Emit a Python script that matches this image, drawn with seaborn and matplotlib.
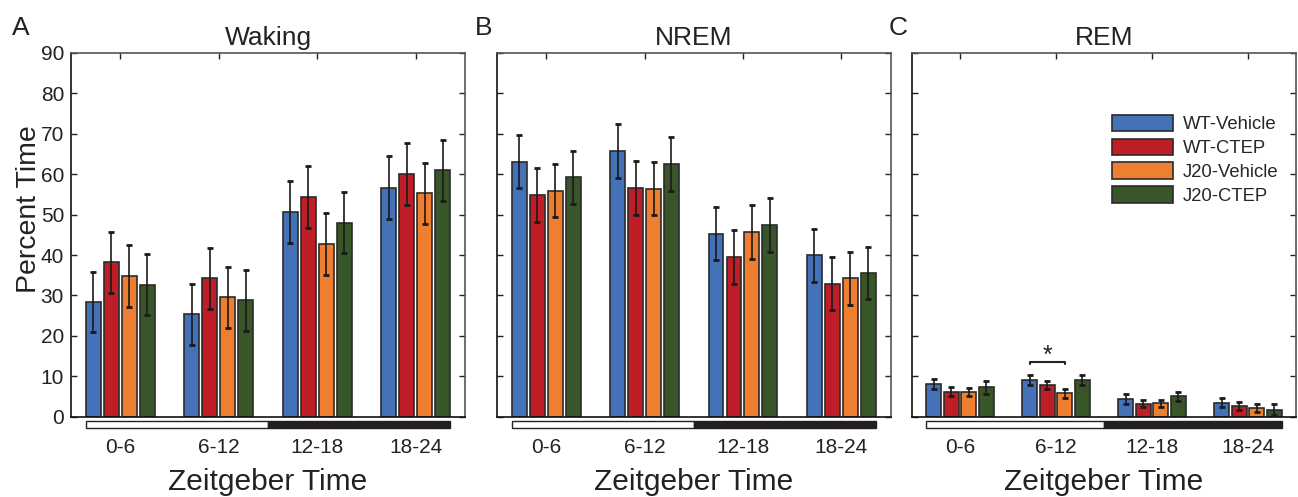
import numpy as np
import pandas as pd
import seaborn as sns
import matplotlib.pyplot as plt
from matplotlib.patches import Rectangle
import matplotlib.transforms as mtransforms

# data
times = ['0-6', '6-12', '12-18', '18-24']
groups = ['WT-Vehicle', 'WT-CTEP', 'J20-Vehicle', 'J20-CTEP']
colors = ['#4472B9', '#C01E26', '#EE7F30', '#385628']

waking_mean = [[28.4, 25.3, 50.7, 56.7],
               [38.2, 34.2, 54.3, 60.0],
               [34.8, 29.5, 42.8, 55.3],
               [32.7, 28.8, 48.0, 61.0]]
waking_sem = [[7.5, 7.6, 7.6, 7.7],
              [7.6, 7.6, 7.7, 7.7],
              [7.7, 7.6, 7.7, 7.6],
              [7.6, 7.5, 7.6, 7.5]]

nrem_mean = [[63.1, 65.8, 45.3, 39.9],
             [54.9, 56.6, 39.5, 32.9],
             [55.9, 56.4, 45.8, 34.2],
             [59.2, 62.5, 47.4, 35.6]]
nrem_sem = [[6.6, 6.7, 6.6, 6.5],
            [6.6, 6.6, 6.6, 6.5],
            [6.6, 6.6, 6.7, 6.6],
            [6.5, 6.6, 6.6, 6.5]]

rem_mean = [[8.1, 9.1, 4.3, 3.5],
            [6.2, 7.9, 3.2, 2.6],
            [6.0, 5.8, 3.3, 2.1],
            [7.3, 9.0, 5.0, 1.7]]
rem_sem = [[1.3, 1.2, 1.2, 1.2],
           [1.2, 1.0, 0.9, 1.0],
           [1.0, 1.1, 0.8, 1.0],
           [1.6, 1.2, 1.1, 1.4]]

titles = ['Waking', 'NREM', 'REM']
letters = ['A', 'B', 'C']

sns.set_style('ticks')
plt.rcParams['font.family'] = ['Liberation Sans', 'DejaVu Sans']

fig = plt.figure(figsize=(12.98, 4.97), dpi=100)
lefts = [71, 497, 912]
rights = [465, 890.5, 1296]
letter_x = [12, 475, 889]
bottom = 1 - 416.7 / 497
height = (416.7 - 53) / 497


def long_table(means):
    rows = []
    for g, vals in zip(groups, means):
        for t, v in zip(times, vals):
            rows.append({'time': t, 'group': g, 'value': v})
    return pd.DataFrame(rows)


panels = [(waking_mean, waking_sem), (nrem_mean, nrem_sem), (rem_mean, rem_sem)]
axes = []
bars_by_panel = []
for i, (means, sems) in enumerate(panels):
    ax = fig.add_axes([lefts[i] / 1298, bottom, (rights[i] - lefts[i]) / 1298, height])
    axes.append(ax)
    df = long_table(means)
    sns.barplot(data=df, x='time', y='value', hue='group', order=times,
                hue_order=groups, palette=colors, errorbar=None,
                width=0.73, gap=0.17, edgecolor='#2b2b2b', linewidth=1.2,
                saturation=1, legend=(i == 2), ax=ax)
    bars = list(ax.containers)
    bars_by_panel.append(bars)

    # error bars at the bar centres seaborn placed
    for cont, err in zip(bars, sems):
        xs = [b.get_x() + b.get_width() / 2 for b in cont]
        ys = [b.get_height() for b in cont]
        ax.errorbar(xs, ys, yerr=err, fmt='none', ecolor='#1a1a1a',
                    elinewidth=1.2, capsize=2, capthick=2, zorder=5)

    ax.set_xlim(-0.5, 3.5)
    ax.set_ylim(0, 90)
    ax.set_yticks(range(0, 91, 10))
    ax.tick_params(axis='both', direction='in', length=4, width=1,
                   top=True, right=True, labelsize=15, colors='#222222')
    ax.tick_params(axis='x', bottom=False, pad=15)
    ax.tick_params(axis='y', pad=5)
    if i > 0:
        ax.set_yticklabels([])
    for s in ['top', 'right']:
        ax.spines[s].set_color('#555555')
    for s in ['left', 'bottom']:
        ax.spines[s].set_color('#111111')
    for s in ax.spines.values():
        s.set_linewidth(1.2)

    ax.set_title(titles[i], fontsize=19, pad=6, color='#222222')
    ax.set_xlabel('Zeitgeber Time', fontsize=21.5, labelpad=8, color='#222222')
    if i == 0:
        ax.set_ylabel('Percent Time', fontsize=20.5, color='#222222')
        ax.yaxis.set_label_coords(-0.074, 0.572)
    else:
        ax.set_ylabel('')

    # light / dark bar under the axis
    first = bars[0][0]
    last = bars[-1][-1]
    x0 = first.get_x()
    x1 = last.get_x() + last.get_width()
    trans = mtransforms.blended_transform_factory(ax.transData, ax.transAxes)
    ax.add_patch(Rectangle((x0, -0.032), 1.5 - x0, 0.02, transform=trans,
                           facecolor='white', edgecolor='#222222', lw=1,
                           clip_on=False))
    ax.add_patch(Rectangle((1.5, -0.032), x1 - 1.5, 0.02, transform=trans,
                           facecolor='#231f20', edgecolor='#231f20', lw=1,
                           clip_on=False))

    fig.text(letter_x[i] / 1298, 0.944, letters[i], fontsize=19,
             color='#222222', va='center', ha='left')

# legend for REM panel
axc = axes[2]
axc.legend(loc='upper left', bbox_to_anchor=(0.52, 0.83), frameon=False,
           fontsize=13.3, handlelength=3.3, handleheight=1.0, labelspacing=0.28,
           borderpad=0, borderaxespad=0, handletextpad=0.55)

# significance bracket in 6-12
rem_bars = bars_by_panel[2]
c_a = rem_bars[0][1]
c_b = rem_bars[2][1]
xa = c_a.get_x() + c_a.get_width() / 2
xb = c_b.get_x() + c_b.get_width() / 2
axc.plot([xa, xa, xb, xb], [13.0, 13.6, 13.6, 13.0], color='#222222', lw=1.5)
axc.text((xa + xb) / 2, 12.0, '*', ha='center', va='bottom', fontsize=18,
         color='#222222')

fig.savefig('out.png', dpi=100)
